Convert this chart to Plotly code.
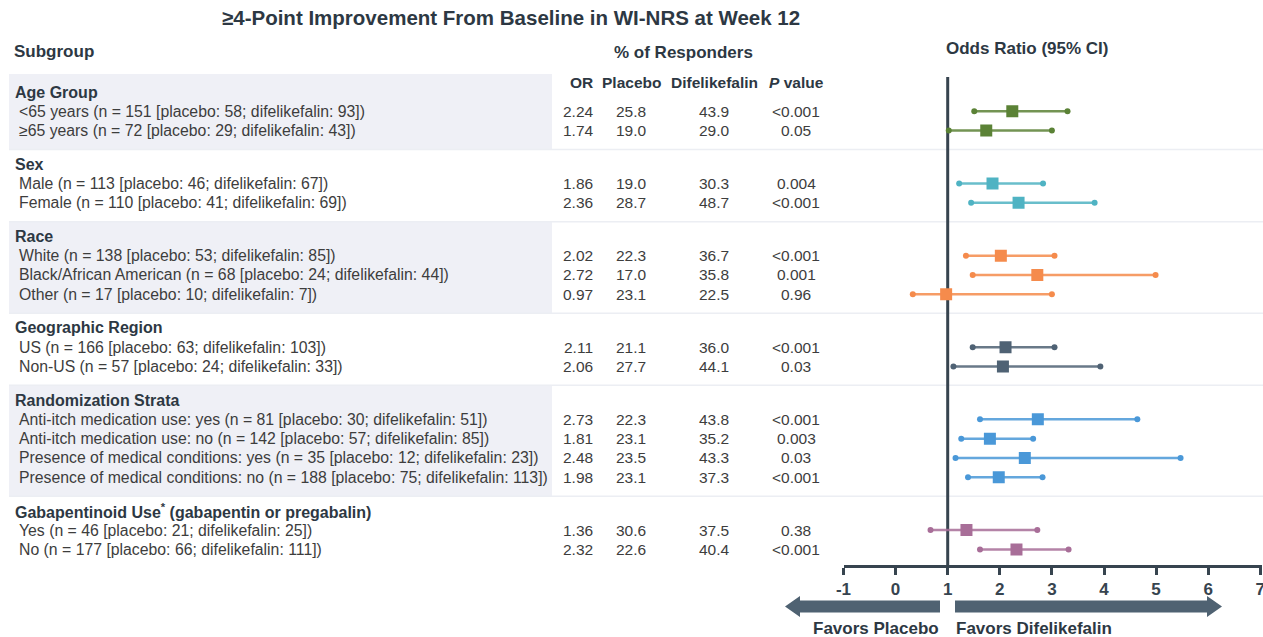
import plotly.graph_objects as go

# ---------------- data ----------------
groups = ["Age Group", "Sex", "Race", "Geographic Region",
          "Randomization Strata",
          "Gabapentinoid Use<sup>*</sup> (gabapentin or pregabalin)"]

subgroups = [
    ["<65 years (n = 151 [placebo: 58; difelikefalin: 93])",
     "≥65 years (n = 72 [placebo: 29; difelikefalin: 43])"],
    ["Male (n = 113 [placebo: 46; difelikefalin: 67])",
     "Female (n = 110 [placebo: 41; difelikefalin: 69])"],
    ["White (n = 138 [placebo: 53; difelikefalin: 85])",
     "Black/African American (n = 68 [placebo: 24; difelikefalin: 44])",
     "Other (n = 17 [placebo: 10; difelikefalin: 7])"],
    ["US (n = 166 [placebo: 63; difelikefalin: 103])",
     "Non-US (n = 57 [placebo: 24; difelikefalin: 33])"],
    ["Anti-itch medication use: yes (n = 81 [placebo: 30; difelikefalin: 51])",
     "Anti-itch medication use: no (n = 142 [placebo: 57; difelikefalin: 85])",
     "Presence of medical conditions: yes (n = 35 [placebo: 12; difelikefalin: 23])",
     "Presence of medical conditions: no (n = 188 [placebo: 75; difelikefalin: 113])"],
    ["Yes (n = 46 [placebo: 21; difelikefalin: 25])",
     "No (n = 177 [placebo: 66; difelikefalin: 111])"],
]

odds_ratio = [[2.24, 1.74], [1.86, 2.36], [2.02, 2.72, 0.97], [2.11, 2.06],
              [2.73, 1.81, 2.48, 1.98], [1.36, 2.32]]
ci_low = [[1.51, 1.02], [1.22, 1.45], [1.35, 1.48, 0.33], [1.48, 1.11],
          [1.62, 1.26, 1.15, 1.39], [0.67, 1.62]]
ci_high = [[3.30, 3.00], [2.83, 3.82], [3.05, 4.99, 3.00], [3.05, 3.93],
           [4.64, 2.64, 5.47, 2.82], [2.72, 3.32]]
pct_placebo = [["25.8", "19.0"], ["19.0", "28.7"], ["22.3", "17.0", "23.1"],
               ["21.1", "27.7"], ["22.3", "23.1", "23.5", "23.1"], ["30.6", "22.6"]]
pct_difelikefalin = [["43.9", "29.0"], ["30.3", "48.7"], ["36.7", "35.8", "22.5"],
                     ["36.0", "44.1"], ["43.8", "35.2", "43.3", "37.3"],
                     ["37.5", "40.4"]]
p_values = [["<0.001", "0.05"], ["0.004", "<0.001"], ["<0.001", "0.001", "0.96"],
            ["<0.001", "0.03"], ["<0.001", "0.003", "0.03", "<0.001"],
            ["0.38", "<0.001"]]
x_ticks = [-1, 0, 1, 2, 3, 4, 5, 6, 7]

# ---------------- styling ----------------
W, H = 1263, 637
FONT = "Arial, 'Liberation Sans', sans-serif"
DARK = "#2d3843"
TEXT = "#3d3d3d"
AXIS = "#37444f"
ARROW = "#4f6272"
BAND = "#eff0f6"
SEP = "#eceef3"
colors = ["#5b8236", "#4fb3c3", "#f58b4c", "#4f6274", "#4a98d8", "#a86e98"]

# row geometry (row units on the y axis)
ROW_PX = 19.3           # pixels per row
TOP_PX = 92             # pixel position of the first group header
GROUP_GAP = 2.74        # rows between last row of a group and next group's first row
AXIS_PX = 565           # pixel position of the x axis line

def px(x):
    return x / W

def py(y):
    return 1 - y / H

def row_of_px(y):
    return (y - TOP_PX) / ROW_PX

# compute header / row positions
header_pos, row_pos = [], []
cur = 0.0
for g, subs in enumerate(subgroups):
    if g > 0:
        cur = row_pos[-1][-1] + GROUP_GAP - 1
    header_pos.append(cur)
    row_pos.append([cur + 1 + i for i in range(len(subs))])

fig = go.Figure()

# CI whiskers, end dots and OR squares
for g in range(len(groups)):
    lx, ly, dx, dy = [], [], [], []
    for i, y in enumerate(row_pos[g]):
        lx += [ci_low[g][i], ci_high[g][i], None]
        ly += [y, y, None]
        dx += [ci_low[g][i], ci_high[g][i]]
        dy += [y, y]
    fig.add_trace(go.Scatter(x=lx, y=ly, mode="lines", opacity=0.85,
                             line=dict(color=colors[g], width=2.5),
                             hoverinfo="skip", showlegend=False))
    fig.add_trace(go.Scatter(x=dx, y=dy, mode="markers",
                             marker=dict(color=colors[g], size=6),
                             hoverinfo="skip", showlegend=False))
    fig.add_trace(go.Scatter(x=odds_ratio[g], y=row_pos[g], mode="markers",
                             marker=dict(color=colors[g], size=12, symbol="square"),
                             showlegend=False))

shapes = []
ann = []

# shaded bands and separators
sep_rows = [row_pos[g][-1] + 0.98 for g in range(len(groups) - 1)]
band_top = row_of_px(74)
for g in range(len(groups)):
    top = band_top if g == 0 else sep_rows[g - 1]
    bottom = sep_rows[g] if g < len(sep_rows) else None
    if g % 2 == 0 and bottom is not None:
        shapes.append(dict(type="rect", xref="paper", yref="y", layer="below",
                           x0=px(9), x1=px(552), y0=top, y1=bottom,
                           fillcolor=BAND, line=dict(width=0)))
for s in sep_rows:
    shapes.append(dict(type="line", xref="paper", yref="y", layer="below",
                       x0=px(9), x1=1, y0=s, y1=s,
                       line=dict(color=SEP, width=1.5)))

# reference line at OR = 1
shapes.append(dict(type="line", xref="x", yref="y", layer="below",
                   x0=1, x1=1, y0=row_of_px(77), y1=row_of_px(AXIS_PX),
                   line=dict(color=AXIS, width=3)))

# direction arrows
def path(points):
    return "M " + " L ".join(f"{px(a)},{py(b)}" for a, b in points) + " Z"

shapes.append(dict(type="path", xref="paper", yref="paper", fillcolor=ARROW,
                   line=dict(width=0),
                   path=path([(785, 606.5), (800, 596), (800, 600.5), (940, 600.5),
                              (940, 612.5), (800, 612.5), (800, 617)])))
shapes.append(dict(type="path", xref="paper", yref="paper", fillcolor=ARROW,
                   line=dict(width=0),
                   path=path([(955, 600.5), (1207, 600.5), (1207, 596), (1222, 606.5),
                              (1207, 617), (1207, 612.5), (955, 612.5)])))

def text(x, y, s, size, bold=False, anchor="left", color=TEXT, yref="paper"):
    ann.append(dict(x=x, y=y, xref="paper", yref=yref, text=f"<b>{s}</b>" if bold else s,
                    showarrow=False, xanchor=anchor, yanchor="middle", borderpad=0,
                    font=dict(family=FONT, size=size, color=color)))

# titles and headers
text(px(511), py(18), "≥4-Point Improvement From Baseline in WI-NRS at Week 12", 20.5,
     True, "center", DARK)
text(px(13), py(52), "Subgroup", 17, True, "left", DARK)
text(px(683), py(52.5), "% of Responders", 17, True, "center", DARK)
text(px(1027), py(48), "Odds Ratio (95% CI)", 17, True, "center", DARK)
text(px(581), py(83), "OR", 15.5, True, "center", DARK)
text(px(631), py(83), "Placebo", 15.5, True, "center", DARK)
text(px(714), py(83), "Difelikefalin", 15.5, True, "center", DARK)
text(px(796), py(83), "<i>P</i> value", 15.5, True, "center", DARK)

# table body
for g in range(len(groups)):
    text(px(14), header_pos[g], groups[g], 16, True, "left", DARK, "y")
    for i, y in enumerate(row_pos[g]):
        text(px(18), y, subgroups[g][i], 15.8, False, "left", TEXT, "y")
        text(px(578), y, f"{odds_ratio[g][i]:.2f}", 15.5, False, "center", TEXT, "y")
        text(px(631), y, pct_placebo[g][i], 15.5, False, "center", TEXT, "y")
        text(px(714), y, pct_difelikefalin[g][i], 15.5, False, "center", TEXT, "y")
        text(px(796), y, p_values[g][i], 15.5, False, "center", TEXT, "y")

# arrow captions
text(px(940), py(628), "Favors Placebo", 17, True, "right", DARK)
text(px(955), py(628), "Favors Difelikefalin", 17, True, "left", DARK)

# axes geometry
X_LEFT_PX, X_RIGHT_PX, UNIT_PX = 843.5, 1261.5, 52.1
x_range = [-1, -1 + (X_RIGHT_PX - X_LEFT_PX) / UNIT_PX]

fig.update_layout(
    template="none",
    width=W, height=H, autosize=False,
    margin=dict(l=0, r=0, t=0, b=0, pad=0),
    paper_bgcolor="white", plot_bgcolor="rgba(0,0,0,0)",
    shapes=shapes, annotations=ann,
    xaxis=dict(domain=[px(X_LEFT_PX), px(X_RIGHT_PX)], range=x_range,
               tickvals=x_ticks, ticktext=[f"<b>{t}</b>" for t in x_ticks],
               showgrid=False, zeroline=False, showline=True, linewidth=3,
               linecolor=AXIS, ticks="outside", ticklen=7, tickwidth=3,
               tickcolor=AXIS, tickfont=dict(family=FONT, size=17, color=AXIS),
               automargin=False, ticklabeloverflow="allow", fixedrange=True),
    yaxis=dict(domain=[1 - AXIS_PX / H, 1],
               range=[row_of_px(AXIS_PX), row_of_px(0)],
               visible=False, automargin=False, fixedrange=True),
)

fig.write_html("out.html")
